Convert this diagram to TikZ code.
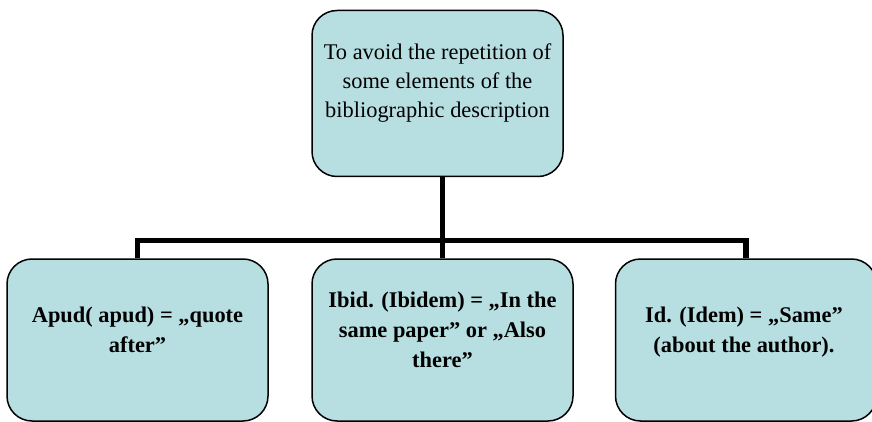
\documentclass[tikz,border=0pt]{standalone}
\usepackage{fontspec}
\setmainfont{Liberation Serif}
\usetikzlibrary{calc}
\definecolor{boxfill}{RGB}{183,222,225}
\tikzset{
  box/.style={draw=black, line width=1.5pt, fill=boxfill, rounded corners=25pt,
    minimum width=#1, minimum height=162pt, inner sep=0pt},
  box/.default=261pt,
  conn/.style={draw=black, line width=5.5pt, line join=miter},
  txt/.style={align=center, inner sep=0pt, font=\fontsize{22.4}{29}\selectfont},
  btxt/.style={txt, font=\fontsize{22.4}{30}\selectfont\bfseries}
}
\begin{document}
\begin{tikzpicture}[x=1pt,y=-1pt]
\useasboundingbox (0,0) rectangle (872,422);
% boxes
\node[box=251pt, minimum height=166pt] (top) at (437.5,93.5) {};
\node[box] (left) at (137.5,340) {};
\node[box] (mid) at (442.5,340) {};
\node[box] (right) at (746,340) {};
% connectors
\coordinate (bus) at (442,240.5);
\draw[conn] (top.south -| mid.north) -- (mid.north);
\draw[conn] (left.north) |- (bus) -| (right.north);
% texts (base anchor = baseline of last line)
\node[txt, anchor=base] (ttop) at (437.5,118) {To avoid the repetition of\\some elements of the\\bibliographic description};
\node[btxt, anchor=base] (tleft) at (137.5,352) {Apud( apud) = „quote\\after”};
\node[btxt, anchor=base] (tmid) at (442.5,367) {Ibid. (Ibidem) = „In the\\same paper” or „Also\\there”};
\node[btxt, anchor=base] (tright) at (744,352) {Id. (Idem) = „Same”\\(about the author).};
\end{tikzpicture}
\end{document}
